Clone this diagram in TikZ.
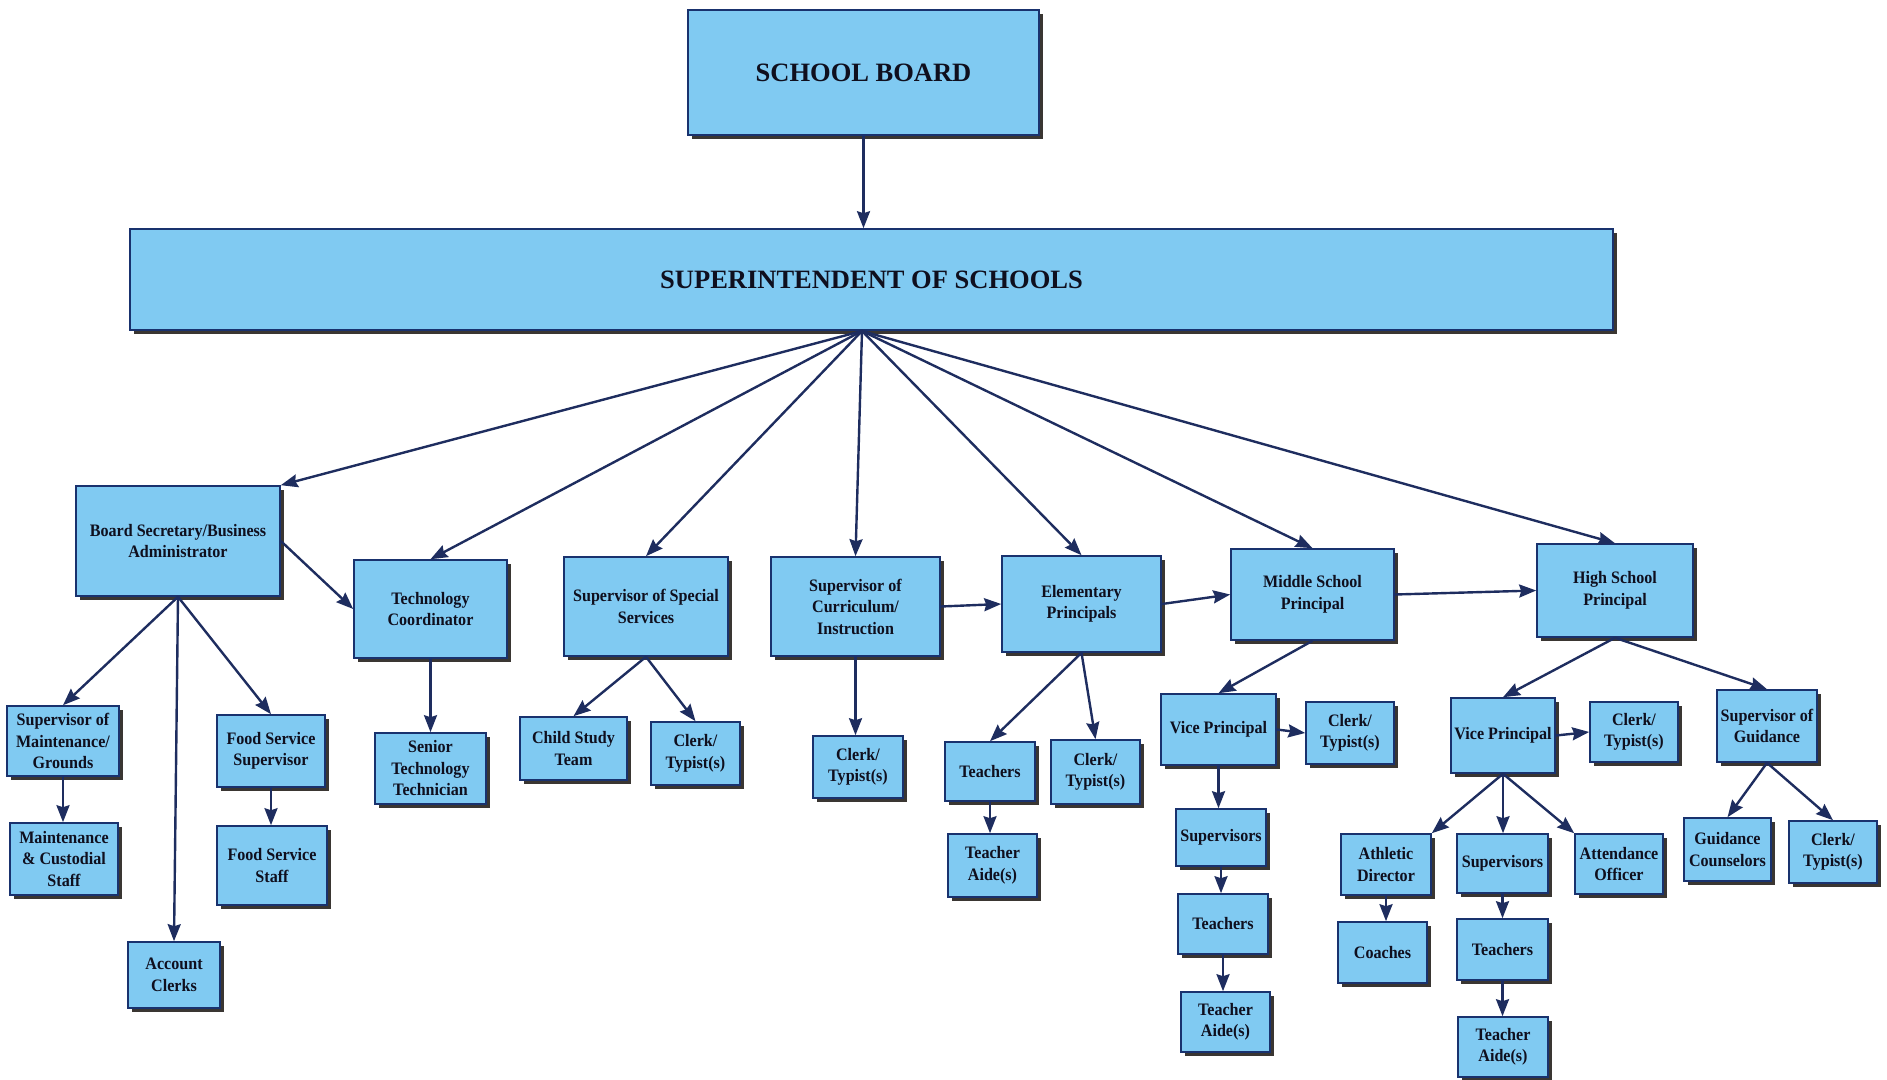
\documentclass[tikz,border=0pt]{standalone}
\usepackage{fontspec}
\setmainfont{Liberation Serif}
\newfontfamily\boxfont[FakeStretch=0.92]{Liberation Serif}
\usetikzlibrary{arrows.meta,shadows}

\definecolor{boxfill}{RGB}{128,202,242}
\definecolor{boxline}{RGB}{25,50,110}
\definecolor{shadowc}{RGB}{58,54,50}
\definecolor{arrowc}{RGB}{30,45,95}
\definecolor{txt}{RGB}{15,15,30}

\tikzset{
    unit/.style={rectangle, draw=boxline, line width=1.6pt, fill=boxfill,
        drop shadow={shadow xshift=3.5pt, shadow yshift=-3.5pt, fill=shadowc, opacity=1},
        align=center, inner sep=2pt, text=txt,
        font=\boxfont\bfseries\fontsize{17.5}{21.5}\selectfont},
    head/.style={unit, font=\bfseries\fontsize{26.5}{30}\selectfont},
    sz/.style 2 args={minimum width=#1pt, minimum height=#2pt},
    arr/.style={draw=arrowc, line width=2.4pt, -{Stealth[length=17pt,width=13pt,inset=2pt]}},
}

\begin{document}
\begin{tikzpicture}[x=1pt,y=-1pt]
        \useasboundingbox (0,0) rectangle (1887,1079);

        % top of the chart
        \node[head, sz={351}{125}] (sb) at (863.5,72.5) {SCHOOL BOARD};
        \node[head, sz={1483}{101}] (supt) at (871.5,279.5) {SUPERINTENDENT OF SCHOOLS};
        \coordinate (hub) at (862,331);

        % second row
        \node[unit, sz={204}{110}] (bsec) at (178,541) {Board Secretary/Business\\Administrator};
        \node[unit, sz={153}{98}] (tech) at (430.5,609) {Technology\\Coordinator};
        \node[unit, sz={164}{99}] (spec) at (646,606.5) {Supervisor of Special\\Services};
        \node[unit, sz={169}{99}] (curr) at (855.5,606.5) {Supervisor of\\Curriculum/\\Instruction};
        \node[unit, sz={159}{96}] (elem) at (1081.5,604) {Elementary\\Principals};
        \node[unit, sz={163}{91}] (mid) at (1312.5,594.5) {Middle School\\Principal};
        \node[unit, sz={156}{93}] (high) at (1615,590.5) {High School\\Principal};

        % business side
        \node[unit, sz={112}{70}] (smaint) at (63,741) {Supervisor of\\Maintenance/\\Grounds};
        \node[unit, sz={108}{72}] (mcust) at (64,859) {Maintenance\\\& Custodial\\Staff};
        \node[unit, sz={108}{72}] (fsup) at (271,751) {Food Service\\Supervisor};
        \node[unit, sz={110}{79}] (fstaff) at (272,865.5) {Food Service\\Staff};
        \node[unit, sz={92}{66}] (acct) at (174,975) {Account\\Clerks};
        \node[unit, sz={111}{71}] (stech) at (430.5,768.5) {Senior\\Technology\\Technician};

        % special services, curriculum, elementary
        \node[unit, sz={107}{63}] (cst) at (573.5,748.5) {Child Study\\Team};
        \node[unit, sz={89}{63}] (sclerk) at (695.5,753.5) {Clerk/\\Typist(s)};
        \node[unit, sz={90}{62}] (cclerk) at (858,767) {Clerk/\\Typist(s)};
        \node[unit, sz={90}{59}] (eteach) at (990,771.5) {Teachers};
        \node[unit, sz={89}{64}] (eclerk) at (1095.5,772) {Clerk/\\Typist(s)};
        \node[unit, sz={89}{63}] (eaide) at (992.5,865.5) {Teacher\\Aide(s)};

        % middle school
        \node[unit, sz={115}{71}] (mvp) at (1218.5,729.5) {Vice Principal};
        \node[unit, sz={88}{62}] (mclerk) at (1350,733) {Clerk/\\Typist(s)};
        \node[unit, sz={90}{57}] (msup) at (1221,837.5) {Supervisors};
        \node[unit, sz={90}{60}] (mteach) at (1223,924) {Teachers};
        \node[unit, sz={89}{60}] (maide) at (1225.5,1022) {Teacher\\Aide(s)};

        % high school
        \node[unit, sz={104}{75}] (hvp) at (1503,735.5) {Vice Principal};
        \node[unit, sz={88}{60}] (hclerk) at (1634,732) {Clerk/\\Typist(s)};
        \node[unit, sz={100}{72}] (sguid) at (1767,726) {Supervisor of\\Guidance};
        \node[unit, sz={90}{61}] (athl) at (1386,864.5) {Athletic\\Director};
        \node[unit, sz={91}{59}] (hsup) at (1502.5,863.5) {Supervisors};
        \node[unit, sz={88}{60}] (attend) at (1619,864) {Attendance\\Officer};
        \node[unit, sz={87}{63}] (gcoun) at (1727.5,849.5) {Guidance\\Counselors};
        \node[unit, sz={88}{62}] (gclerk) at (1833,852) {Clerk/\\Typist(s)};
        \node[unit, sz={89}{61}] (coach) at (1382.5,952.5) {Coaches};
        \node[unit, sz={91}{61}] (hteach) at (1502.5,949.5) {Teachers};
        \node[unit, sz={90}{60}] (haide) at (1503,1047) {Teacher\\Aide(s)};

        % connectors
        \draw[arr] (sb.south) -- (sb.south |- supt.north);
        \foreach \t/\a in {bsec/north east, tech/north, spec/north, curr/north,
                elem/north, mid/north, high/north} {
                \draw[arr] (hub) -- (\t.\a);
            }
        % straight down
        \foreach \s/\t in {smaint/mcust, fsup/fstaff, tech/stech, curr/cclerk, eteach/eaide,
                mvp/msup, msup/mteach, mteach/maide, hvp/hsup, hsup/hteach, hteach/haide,
                athl/coach} {
                \draw[arr] (\s.south) -- (\s.south |- \t.north);
            }
        % slanted
        \foreach \s/\t in {bsec/smaint, bsec/acct, bsec/fsup, spec/cst, spec/sclerk,
                elem/eteach, elem/eclerk, mid/mvp, high/hvp, high/sguid,
                sguid/gcoun, sguid/gclerk} {
                \draw[arr] (\s.south) -- (\t.north);
            }
        \foreach \s/\t in {bsec/tech, curr/elem, elem/mid, mid/high, mvp/mclerk, hvp/hclerk} {
                \draw[arr] (\s.east) -- (\t.west);
            }
        \draw[arr] (hvp.south) -- (athl.north east);
        \draw[arr] (hvp.south) -- (attend.north west);
    \end{tikzpicture}
\end{document}
